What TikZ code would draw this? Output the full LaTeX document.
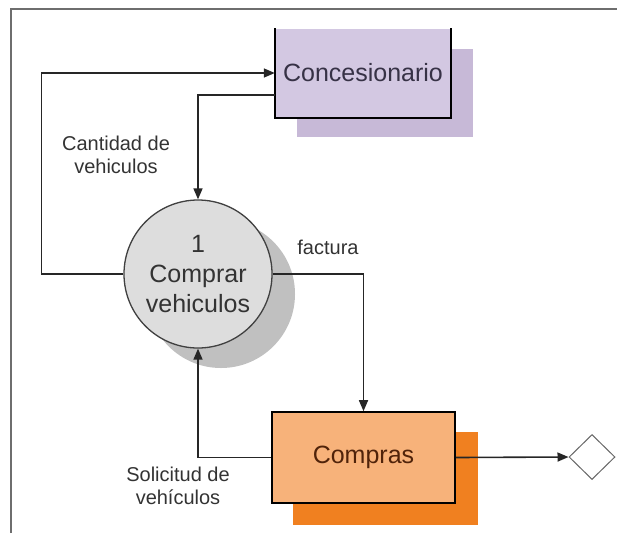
\documentclass[tikz,border=0pt]{standalone}
\usepackage{fontspec}
\setmainfont{Liberation Sans}
\usetikzlibrary{arrows.meta,shapes.geometric}
\definecolor{concfill}{RGB}{211,200,226}
\definecolor{concshadow}{RGB}{199,185,215}
\definecolor{conctext}{RGB}{55,50,70}
\definecolor{procfill}{RGB}{221,221,221}
\definecolor{procshadow}{RGB}{192,192,192}
\definecolor{compfill}{RGB}{247,178,122}
\definecolor{compshadow}{RGB}{240,128,32}
\definecolor{comptext}{RGB}{80,35,10}
\definecolor{framegray}{RGB}{110,110,110}
\begin{document}
\begin{tikzpicture}[x=1pt,y=-1pt,
  flow/.style={draw=black!85, line width=1.6pt, -{Triangle[length=11pt,width=9pt]}},
  lbl/.style={font=\fontsize{20}{23}\selectfont, text=black!80, align=center, inner sep=0},
  bigtxt/.style={font=\fontsize{25}{30}\selectfont}]
\useasboundingbox (0,0) rectangle (617,533);
% frame
\draw[framegray, line width=1.8pt] (11,533) -- (11,9) -- (617,9);
% Concesionario
\fill[concshadow] (297,49) rectangle (473,137);
\node[bigtxt, text=conctext, fill=concfill, minimum width=176pt, minimum height=89pt, inner sep=0] (conc) at (363,73) {Concesionario};
\draw[line width=1.6pt] (conc.north west) -- (conc.south west) -- (conc.south east) -- (conc.north east);
% process
\fill[procshadow] (221,294) circle[radius=74];
\node[circle, minimum size=148pt, inner sep=0, fill=procfill, draw=black!75, line width=1.3pt, bigtxt, text=black!80, align=center] (proc) at (198,274) {1\\Comprar\\vehiculos};
% Compras
\fill[compshadow] (293,432) rectangle (478,525);
\node[draw=black, line width=1.6pt, fill=compfill, minimum width=183pt, minimum height=91pt, bigtxt, text=comptext] (comp) at (363.5,457.5) {Compras};
% diamond
\node[diamond, draw=black!60, line width=1pt, minimum width=46pt, minimum height=45pt, inner sep=0] (dia) at (592,457) {};
% connectors
\draw[flow] (proc.west) -- ++(-82,0) |- (conc.west);
\draw[flow] ([yshift=-22pt]conc.west) -| (proc.north);
\draw[flow] (proc.east) -| (comp.north);
\draw[flow] (comp.west) -| (proc.south);
\draw[flow] (comp.east) -- (dia.west);
% labels
\node[lbl] (l1) at (116,155) {Cantidad de\\vehiculos};
\node[lbl] (l2) at (328,247) {factura};
\node[lbl] (l3) at (178,486) {Solicitud de\\vehículos};
\end{tikzpicture}
\end{document}
